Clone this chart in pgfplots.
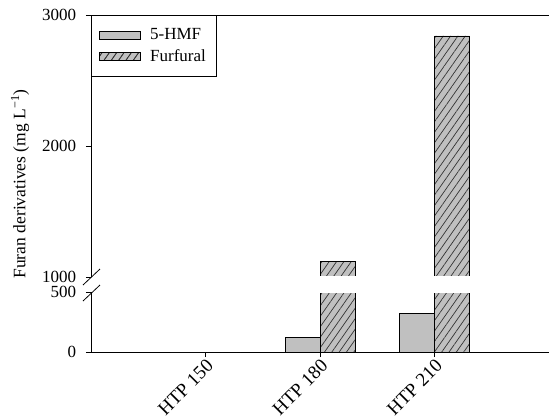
\documentclass[border=0pt]{standalone}
\usepackage{fontspec}
\setmainfont{Liberation Serif}
\usepackage{pgfplots}
\pgfplotsset{compat=1.18}
\usetikzlibrary{patterns.meta}
\definecolor{barg}{RGB}{192,192,192}
\begin{document}
\fontsize{17}{20}\selectfont
\begin{tikzpicture}[x=1pt,y=1pt]
\useasboundingbox (0,0) rectangle (549,-418);
\pgfplotsset{
 common/.style={scale only axis, width=458pt, xmin=-1, xmax=3, ybar, bar width=35pt,
  /pgf/number format/assume math mode=true, tick align=outside, major tick length=5pt,
  tick style={black, line width=0.8pt}, axis line style={line width=0.8pt},
  ticklabel style={font=\fontsize{17}{20}\selectfont},
  yticklabel style={/pgf/number format/1000 sep={}, xshift=-4pt},
 },
 hmf/.style={fill=barg, draw=black, line width=0.8pt, bar shift=-17.5pt},
 fur/.style={fill=barg, draw=black, line width=0.8pt, bar shift=17.5pt,
   postaction={pattern={Lines[angle=55,distance=6pt,line width=0.7pt]}, pattern color=black!80}},
}
% lower axis
\begin{axis}[common, at={(91pt,-352pt)}, anchor=south west, height=60pt,
  ymin=0, ymax=500, ytick={0,500},
  axis x line*=bottom, axis y line*=left,
  xtick={0,1,2}, xticklabels={HTP 150,HTP 180,HTP 210},
  xticklabel style={rotate=45, anchor=north east, yshift=5pt, xshift=5pt, font=\fontsize{19}{22}\selectfont}]
\addplot[hmf] coordinates {(0,0) (1,125) (2,325)};
\addplot[fur] coordinates {(0,0) (1,1120) (2,2840)};
\end{axis}
% upper axis
\begin{axis}[common, at={(91pt,-277pt)}, anchor=south west, height=262pt,
  ymin=1000, ymax=3000, ytick={1000,2000,3000},
  axis x line*=top, axis y line*=left, xtick=\empty,
  legend style={at={(0,1)}, anchor=north west, draw=black, line width=0.8pt,
    font=\fontsize{17}{20}\selectfont, inner xsep=8pt, inner ysep=11pt, row sep=3pt, column sep=7pt},
  legend cell align=left]
\addlegendimage{legend image code/.code={\draw[fill=barg, draw=black, line width=0.8pt] (0pt,-4pt) rectangle (41pt,4pt);}}
\addlegendentry{5-HMF}
\addplot[fur, legend image code/.code={\draw[fill=barg, draw=black, line width=0.8pt, postaction={pattern={Lines[angle=55,distance=6pt,line width=0.7pt]}, pattern color=black!80}] (0pt,-4pt) rectangle (41pt,4pt);}] coordinates {(1,1120) (2,2840)};
\addlegendentry{Furfural}
\end{axis}
% white gap of the axis break across the bars
\fill[white] (92,-276.4) rectangle (549,-292.6);
% axis break marks
\draw[line width=0.8pt] (83,-285) -- (100,-269);
\draw[line width=0.8pt] (83,-301) -- (100,-285);
\node[rotate=90, font=\fontsize{17.5}{20}\selectfont] at (20,-184) {Furan derivatives (mg L\textsuperscript{−1})};
\end{tikzpicture}
\end{document}
